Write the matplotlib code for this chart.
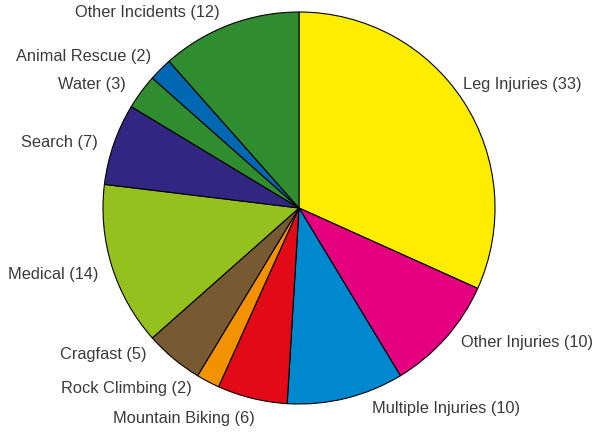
import matplotlib
matplotlib.use("Agg")
import matplotlib.pyplot as plt

categories = ["Leg Injuries", "Other Injuries", "Multiple Injuries", "Mountain Biking",
              "Rock Climbing", "Cragfast", "Medical", "Search", "Water",
              "Animal Rescue", "Other Incidents"]
values = [33, 10, 10, 6, 2, 5, 14, 7, 3, 2, 12]
colors = ["#FFED00", "#E4007F", "#0088CE", "#E30A17", "#F39200", "#775A32",
          "#95C11F", "#312782", "#2F8D2F", "#0068B2", "#2F8D2F"]

# label anchor positions in pixel space (x edge, y centre from top, alignment)
label_pos = [(463, 85, "left"), (461, 343, "left"), (372, 409, "left"),
             (255, 419, "right"), (192, 389, "right"), (146, 354, "right"),
             (98, 275, "right"), (98, 143, "right"), (126, 85, "right"),
             (151, 57, "right"), (220, 12, "right")]

W, H = 593, 433
fig = plt.figure(figsize=(W / 100, H / 100), dpi=100)
ax = fig.add_axes([0, 0, 1, 1])
ax.pie(values, colors=colors, startangle=90, counterclock=False,
       center=(299, H - 208), radius=196,
       wedgeprops=dict(edgecolor="black", linewidth=0.8))
ax.set_xlim(0, W)
ax.set_ylim(0, H)
ax.set_aspect("equal")
ax.axis("off")

for cat, v, (x, y, ha) in zip(categories, values, label_pos):
    ax.text(x, H - y, f"{cat} ({v})", ha=ha, va="center",
            fontsize=11.8, color="#3a3a3a", family=["Liberation Sans", "DejaVu Sans"])

fig.savefig("out.png", dpi=100)
